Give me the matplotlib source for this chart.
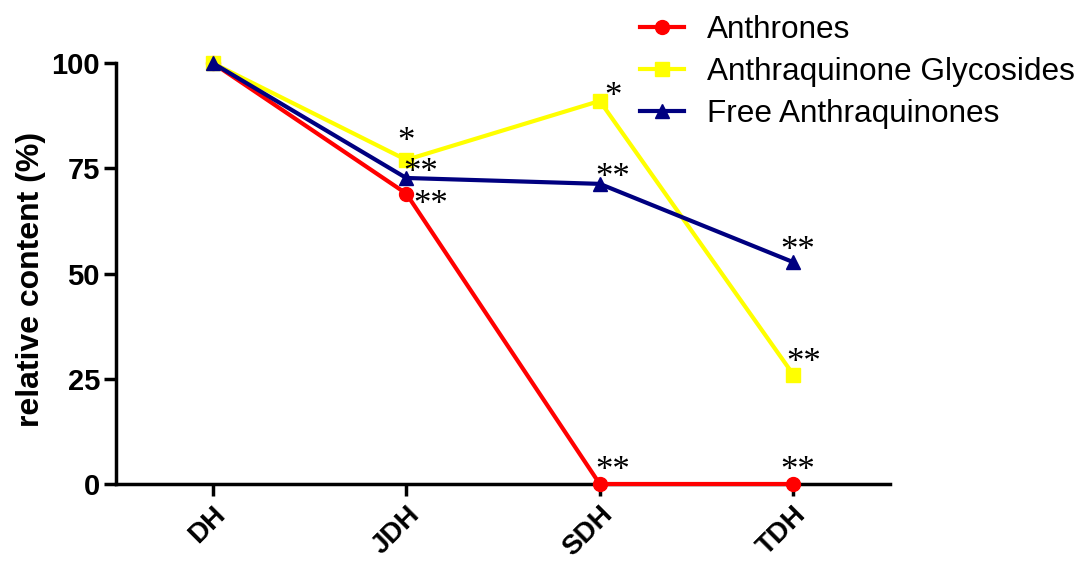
import matplotlib.pyplot as plt

plt.rcParams['font.family'] = ['Liberation Sans', 'DejaVu Sans']

groups = ["DH", "JDH", "SDH", "TDH"]
anthrones = [100, 69, 0, 0]
glycosides = [100, 77, 91, 26]
free_aq = [100, 72.7, 71.3, 52.7]

# significance marks per series, one per group
anthrones_sig = ["", "**", "**", "**"]
glycosides_sig = ["", "*", "*", "**"]
free_sig = ["", "**", "**", "**"]

# where each mark sits relative to its point, in pixels
anthrones_off = [(0, 0), (24, -8), (13, 16), (4, 16)]
glycosides_off = [(0, 0), (0, 21), (13, 7), (10, 15)]
free_off = [(0, 0), (14, 8), (13, 9), (4, 15)]

fig = plt.figure(figsize=(10.78, 5.62), dpi=100)
ax = fig.add_axes([0.1076, 0.1388, 0.718, 0.749])

x = list(range(len(groups)))
ax.plot(x, anthrones, color="#ff0000", lw=3, marker="o", ms=10,
        label="Anthrones", clip_on=False, zorder=3)
ax.plot(x, glycosides, color="#ffff00", lw=3, marker="s", ms=10,
        label="Anthraquinone Glycosides", clip_on=False, zorder=4)
ax.plot(x, free_aq, color="#000080", lw=3, marker="^", ms=10,
        label="Free Anthraquinones", clip_on=False, zorder=5)

for vals, sig, off in [(anthrones, anthrones_sig, anthrones_off),
                       (glycosides, glycosides_sig, glycosides_off),
                       (free_aq, free_sig, free_off)]:
    for i in x:
        if sig[i]:
            ax.annotate(sig[i], (i, vals[i]), xytext=off[i], textcoords="offset pixels",
                        ha="center", va="center_baseline", fontsize=25,
                        family="Liberation Serif", zorder=6, annotation_clip=False)

ax.set_xlim(-0.5, 3.5)
ax.set_ylim(0, 100)
ax.set_yticks([0, 25, 50, 75, 100])
ax.set_xticks(x)
ax.set_xticklabels(groups, rotation=45, ha="right", rotation_mode="anchor")
for lab in ax.get_yticklabels():
    lab.set_fontweight("bold")
    lab.set_fontsize(21)
for lab in ax.get_xticklabels():
    lab.set_fontweight("bold")
    lab.set_fontsize(20)
ax.set_ylabel("relative content (%)", fontsize=23, fontweight="bold")
ax.yaxis.set_label_coords(-0.09, 0.487)

for s in ["top", "right"]:
    ax.spines[s].set_visible(False)
for s in ["left", "bottom"]:
    ax.spines[s].set_linewidth(2.5)
ax.tick_params(width=2.5, length=8.5, direction="out", pad=3)
ax.tick_params(axis="x", pad=4)

ax.legend(loc="upper left", bbox_to_anchor=(0.594, 0.974), bbox_transform=fig.transFigure,
          frameon=False, fontsize=22.7, handlelength=1.4, handletextpad=0.72,
          labelspacing=0.38, borderpad=0, borderaxespad=0)

plt.savefig("out.png")
